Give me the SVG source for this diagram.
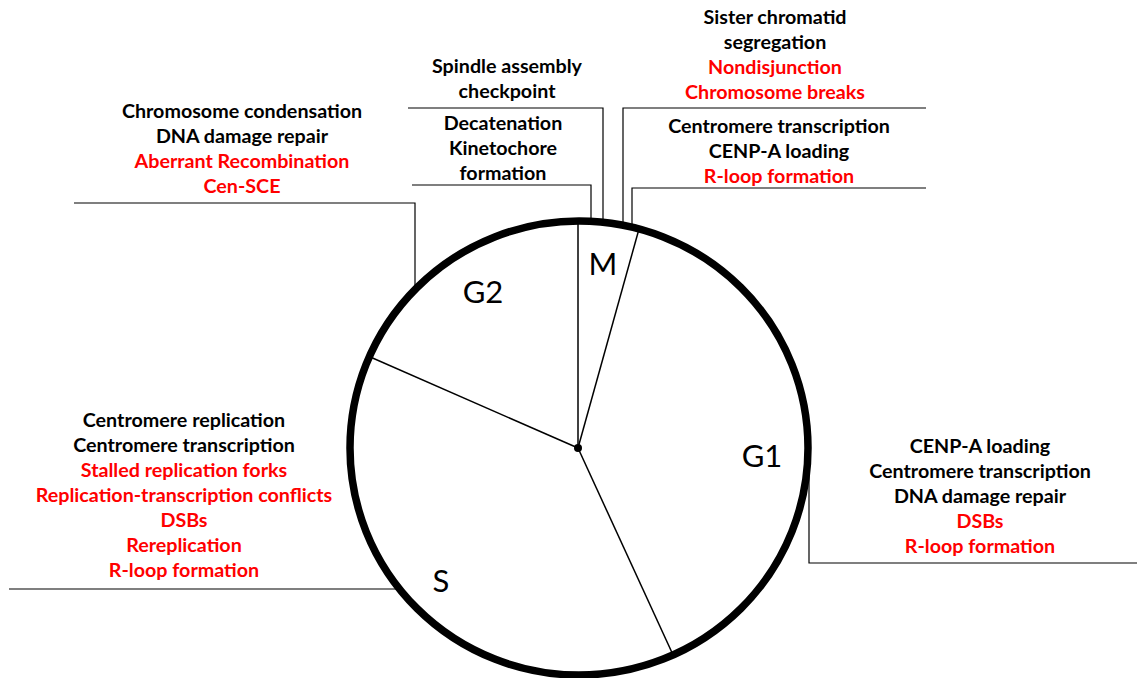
<svg xmlns="http://www.w3.org/2000/svg" width="1137" height="678" viewBox="0 0 1137 678">
<style>
.t{font-family:Lato,"Liberation Sans",sans-serif;font-weight:bold;font-size:19.7px;text-anchor:middle;fill:#000}
.r{fill:#ff0000}
.ph{font-family:Lato,"Liberation Sans",sans-serif;font-size:31px;text-anchor:middle;fill:#000}
.c{fill:none;stroke:#000;stroke-width:1.2}
.sp{stroke:#000;stroke-width:1.5}
</style>
<rect width="1137" height="678" fill="#fff"/>
<ellipse cx="579" cy="448" rx="229" ry="227" fill="#fff"/>
<g id="connectors">
<polyline class="c" points="408,108 603,108 603,222"/>
<polyline class="c" points="412,185 591,185 591,222"/>
<polyline class="c" points="926,108 623,108 623,226"/>
<polyline class="c" points="926,188 632,188 632,228"/>
<polyline class="c" points="74,203 415,203 415,290"/>
<polyline class="c" points="9,589 399,589"/>
<polyline class="c" points="809,470 809,563 1137,563"/>
</g>
<g id="cycle">
<line class="sp" x1="578" y1="448" x2="578" y2="222"/>
<line class="sp" x1="578" y1="448" x2="639" y2="229"/>
<line class="sp" x1="578" y1="448" x2="674" y2="657"/>
<line class="sp" x1="578" y1="448" x2="368" y2="356"/>
<ellipse cx="579" cy="448" rx="229" ry="227" fill="none" stroke="#000" stroke-width="7.5"/>
<circle cx="578" cy="448" r="4" fill="#000"/>
</g>
<g id="phase-M"><text class="ph" x="603" y="275">M</text></g>
<g id="phase-G2"><text class="ph" x="483" y="303">G2</text></g>
<g id="phase-G1"><text class="ph" x="762" y="467">G1</text></g>
<g id="phase-S"><text class="ph" x="441" y="592">S</text></g>
<g id="label-spindle">
<text class="t" x="507" y="73">Spindle assembly</text>
<text class="t" x="507" y="98">checkpoint</text>
</g>
<g id="label-sister">
<text class="t" x="775" y="24">Sister chromatid</text>
<text class="t" x="775" y="49">segregation</text>
<text class="t r" x="775" y="74">Nondisjunction</text>
<text class="t r" x="775" y="99">Chromosome breaks</text>
</g>
<g id="label-decatenation">
<text class="t" x="503" y="130">Decatenation</text>
<text class="t" x="503" y="155">Kinetochore</text>
<text class="t" x="503" y="180">formation</text>
</g>
<g id="label-M-G1">
<text class="t" x="779" y="133">Centromere transcription</text>
<text class="t" x="779" y="158">CENP-A loading</text>
<text class="t r" x="779" y="183">R-loop formation</text>
</g>
<g id="label-G2">
<text class="t" x="242" y="118">Chromosome condensation</text>
<text class="t" x="242" y="143">DNA damage repair</text>
<text class="t r" x="242" y="168">Aberrant Recombination</text>
<text class="t r" x="242" y="193">Cen-SCE</text>
</g>
<g id="label-S">
<text class="t" x="184" y="427">Centromere replication</text>
<text class="t" x="184" y="452">Centromere transcription</text>
<text class="t r" x="184" y="477">Stalled replication forks</text>
<text class="t r" x="184" y="502">Replication-transcription conflicts</text>
<text class="t r" x="184" y="527">DSBs</text>
<text class="t r" x="184" y="552">Rereplication</text>
<text class="t r" x="184" y="577">R-loop formation</text>
</g>
<g id="label-G1">
<text class="t" x="980" y="453">CENP-A loading</text>
<text class="t" x="980" y="478">Centromere transcription</text>
<text class="t" x="980" y="503">DNA damage repair</text>
<text class="t r" x="980" y="528">DSBs</text>
<text class="t r" x="980" y="553">R-loop formation</text>
</g>
</svg>
